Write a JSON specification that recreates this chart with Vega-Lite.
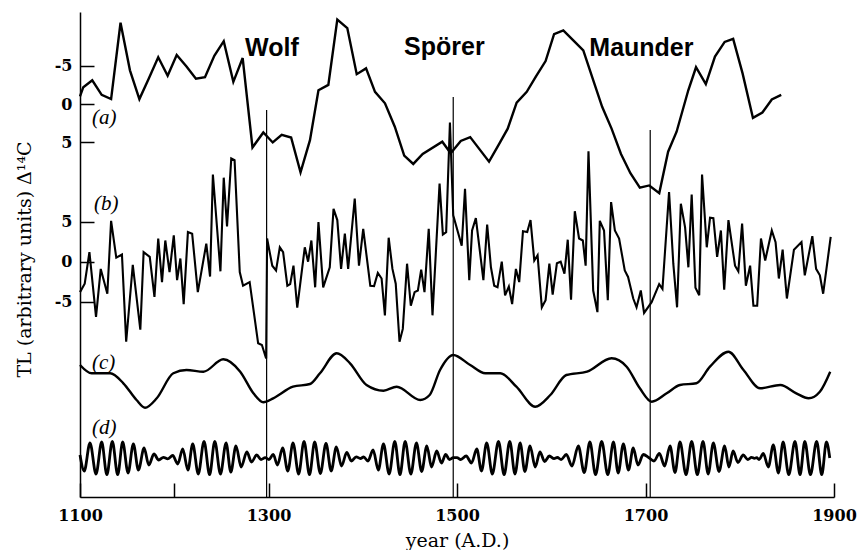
{
  "$schema": "https://vega.github.io/schema/vega-lite/v6.json",
  "width": 754,
  "height": 485,
  "autosize": {"type": "none"},
  "padding": {"left": 80, "top": 12, "right": 27, "bottom": 53},
  "background": "white",
  "config": {
    "view": {"stroke": null},
    "axis": {"grid": false, "domainColor": "black", "tickColor": "black", "labelColor": "black", "titleColor": "black"}
  },
  "datasets": {
    "a": [
      {"t":1100,"v":-1.0},{"t":1103.5,"v":-2.2},{"t":1113,"v":-3.1},{"t":1123,"v":-1.2},{"t":1133,"v":-0.65},{"t":1143,"v":-10.6},{"t":1153,"v":-4.4},{"t":1163,"v":-0.65},{"t":1173,"v":-3.35},{"t":1183,"v":-6.1},{"t":1193,"v":-3.7},{"t":1202.6,"v":-6.4},{"t":1213,"v":-4.9},{"t":1223,"v":-3.3},{"t":1232.6,"v":-3.5},{"t":1242.5,"v":-6.3},{"t":1252.5,"v":-8.2},{"t":1262.7,"v":-2.9},{"t":1272.6,"v":-6.0},{"t":1283,"v":5.65},{"t":1294.5,"v":3.7},{"t":1304.5,"v":5.0},{"t":1314,"v":4.0},{"t":1324,"v":4.35},{"t":1334,"v":8.9},{"t":1344,"v":4.7},{"t":1353,"v":-1.8},{"t":1363.5,"v":-2.5},{"t":1373,"v":-11.0},{"t":1383.6,"v":-9.9},{"t":1393.6,"v":-3.9},{"t":1403.5,"v":-4.65},{"t":1413,"v":-1.6},{"t":1423.6,"v":-0.1},{"t":1434,"v":2.95},{"t":1444,"v":6.7},{"t":1453.6,"v":7.8},{"t":1463.6,"v":6.5},{"t":1484.4,"v":4.9},{"t":1493.3,"v":6.4},{"t":1504,"v":4.8},{"t":1514,"v":4.3},{"t":1534,"v":7.5},{"t":1544,"v":5.35},{"t":1553.8,"v":3.2},{"t":1563.3,"v":-0.2},{"t":1574,"v":-1.6},{"t":1583.8,"v":-3.6},{"t":1594,"v":-5.6},{"t":1603,"v":-9.1},{"t":1612.8,"v":-9.6},{"t":1623.4,"v":-8.3},{"t":1634,"v":-7.0},{"t":1644.6,"v":-3.1},{"t":1654,"v":0.35},{"t":1664,"v":3.2},{"t":1674,"v":6.5},{"t":1684,"v":9.0},{"t":1694,"v":10.9},{"t":1704,"v":10.6},{"t":1714.6,"v":11.6},{"t":1724,"v":6.2},{"t":1733,"v":3.6},{"t":1745.4,"v":-1.8},{"t":1753.6,"v":-4.8},{"t":1764,"v":-2.6},{"t":1773.7,"v":-6.2},{"t":1784,"v":-8.1},{"t":1793,"v":-8.5},{"t":1803,"v":-4.0},{"t":1814,"v":1.8},{"t":1824,"v":1.1},{"t":1834,"v":-0.6},{"t":1844,"v":-1.2}
    ],
    "b": [
      {"t":1100,"v":-3.8},{"t":1105,"v":-2.75},{"t":1110,"v":1.2},{"t":1117,"v":-6.9},{"t":1122,"v":-0.9},{"t":1129,"v":-4.0},{"t":1133,"v":5.1},{"t":1138.5,"v":0.5},{"t":1144.5,"v":0.9},{"t":1149,"v":-10.0},{"t":1156,"v":-0.4},{"t":1164,"v":-8.5},{"t":1167.5,"v":1.2},{"t":1174,"v":0.6},{"t":1179,"v":-4.4},{"t":1183,"v":2.9},{"t":1187,"v":-2.55},{"t":1190.5,"v":2.65},{"t":1195,"v":-1.3},{"t":1199.5,"v":3.3},{"t":1203,"v":-2.3},{"t":1206.5,"v":0.4},{"t":1210,"v":-5.3},{"t":1214.5,"v":3.7},{"t":1219,"v":3.5},{"t":1225,"v":-3.8},{"t":1234,"v":2.25},{"t":1238,"v":-1.85},{"t":1241,"v":10.9},{"t":1249,"v":-1.2},{"t":1252.5,"v":10.5},{"t":1256,"v":4.4},{"t":1260.5,"v":12.9},{"t":1264,"v":12.7},{"t":1269.5,"v":-1.3},{"t":1273,"v":-3.0},{"t":1280,"v":-2.55},{"t":1289,"v":-10.2},{"t":1293,"v":-10.4},{"t":1297.5,"v":-12.1},{"t":1298.5,"v":2.9},{"t":1304,"v":-0.5},{"t":1308,"v":-1.1},{"t":1312,"v":1.8},{"t":1315.5,"v":1.2},{"t":1320,"v":-3.0},{"t":1323,"v":-2.8},{"t":1326.5,"v":-0.5},{"t":1330.5,"v":-5.75},{"t":1338.5,"v":1.8},{"t":1342,"v":0},{"t":1345.5,"v":2.65},{"t":1349.5,"v":-3.2},{"t":1353,"v":4.95},{"t":1358,"v":-3.2},{"t":1365,"v":-0.7},{"t":1369,"v":6.6},{"t":1373,"v":5.2},{"t":1377,"v":-0.9},{"t":1381,"v":3.5},{"t":1384.5,"v":-0.9},{"t":1391.5,"v":7.9},{"t":1396,"v":-0.5},{"t":1400.5,"v":4.1},{"t":1408,"v":-3.0},{"t":1412,"v":-3.05},{"t":1416,"v":-1.4},{"t":1420,"v":-2.1},{"t":1423.5,"v":-6.7},{"t":1427.5,"v":3.0},{"t":1431.5,"v":-0.9},{"t":1435,"v":-2.75},{"t":1439,"v":-10.0},{"t":1442.5,"v":-8.4},{"t":1447,"v":-0.25},{"t":1451,"v":-5.5},{"t":1455,"v":-3.8},{"t":1458.5,"v":-3.6},{"t":1462,"v":-1.0},{"t":1465.5,"v":-3.8},{"t":1470,"v":4.1},{"t":1474,"v":-6.7},{"t":1481.5,"v":9.75},{"t":1485,"v":3.4},{"t":1488.5,"v":3.7},{"t":1492.5,"v":17.4},{"t":1496,"v":5.8},{"t":1505,"v":2.0},{"t":1508.5,"v":9.1},{"t":1513,"v":-2.3},{"t":1516,"v":3.9},{"t":1520,"v":5.45},{"t":1528,"v":-2.3},{"t":1532,"v":4.65},{"t":1536,"v":-0.7},{"t":1539.5,"v":-3.0},{"t":1543,"v":-3.2},{"t":1547.5,"v":0},{"t":1551,"v":-4.2},{"t":1555,"v":-3.1},{"t":1558.5,"v":-5.3},{"t":1562.5,"v":-0.9},{"t":1566,"v":-2.55},{"t":1570,"v":3.8},{"t":1574.5,"v":3.7},{"t":1578,"v":5.2},{"t":1582,"v":0.15},{"t":1585.5,"v":0.8},{"t":1590,"v":-5.7},{"t":1594,"v":-4.8},{"t":1598,"v":-0.25},{"t":1601.5,"v":-4.1},{"t":1606,"v":-0.2},{"t":1610,"v":0},{"t":1614,"v":-1.5},{"t":1617.5,"v":2.75},{"t":1621,"v":-4.75},{"t":1625,"v":6.3},{"t":1629.5,"v":2.9},{"t":1633.5,"v":2.65},{"t":1636.5,"v":-0.5},{"t":1639.5,"v":13.8},{"t":1644.5,"v":-3.6},{"t":1649,"v":-6.3},{"t":1651.5,"v":5.1},{"t":1656,"v":3.9},{"t":1660,"v":-4.8},{"t":1663.5,"v":7.45},{"t":1667.5,"v":3.9},{"t":1672,"v":2.9},{"t":1678,"v":-1.1},{"t":1681.5,"v":-1.9},{"t":1687,"v":-4.6},{"t":1690.5,"v":-5.7},{"t":1695,"v":-3.6},{"t":1698.5,"v":-6.4},{"t":1706.5,"v":-5.05},{"t":1714.5,"v":-2.8},{"t":1718,"v":-3.4},{"t":1725,"v":8.7},{"t":1729.5,"v":-0.25},{"t":1733.5,"v":-5.7},{"t":1737.5,"v":7.25},{"t":1742,"v":4.3},{"t":1745.5,"v":-0.7},{"t":1749,"v":8.4},{"t":1753,"v":-3.25},{"t":1757,"v":-4.2},{"t":1760,"v":10.9},{"t":1765,"v":1.8},{"t":1768.5,"v":5.5},{"t":1772,"v":5.45},{"t":1776,"v":0.6},{"t":1780,"v":3.9},{"t":1783.5,"v":-3.5},{"t":1788,"v":5.2},{"t":1795,"v":-0.5},{"t":1798.5,"v":-1.2},{"t":1802.5,"v":4.75},{"t":1806.5,"v":-3.0},{"t":1811,"v":-0.5},{"t":1814.5,"v":-5.5},{"t":1818.5,"v":-5.5},{"t":1822.5,"v":2.9},{"t":1827,"v":0.15},{"t":1834,"v":3.9},{"t":1838,"v":2.45},{"t":1841.5,"v":-2.1},{"t":1845.5,"v":1.5},{"t":1850,"v":-4.6},{"t":1857.5,"v":1.5},{"t":1865.5,"v":2.45},{"t":1869,"v":-1.7},{"t":1877,"v":3.2},{"t":1881,"v":-0.9},{"t":1885,"v":-1.7},{"t":1888.5,"v":-4.0},{"t":1896.5,"v":3.1}
    ],
    "c": [
      {"t":1100,"v":1.6},{"t":1112.4,"v":0.77},{"t":1132,"v":0.77},{"t":1146,"v":-0.23},{"t":1160,"v":-1.9},{"t":1169,"v":-2.67},{"t":1181.4,"v":-1.73},{"t":1199,"v":0.77},{"t":1213,"v":1.1},{"t":1231,"v":0.93},{"t":1252,"v":2.17},{"t":1270,"v":0.93},{"t":1284,"v":-1.23},{"t":1294.5,"v":-2.13},{"t":1305,"v":-1.73},{"t":1326,"v":-0.57},{"t":1344,"v":-0.3},{"t":1354.6,"v":0.77},{"t":1372.4,"v":2.77},{"t":1386.5,"v":1.77},{"t":1404,"v":-0.4},{"t":1422,"v":-0.97},{"t":1436,"v":-0.57},{"t":1461,"v":-1.9},{"t":1471,"v":-1.4},{"t":1482,"v":1.1},{"t":1496,"v":2.6},{"t":1514,"v":1.6},{"t":1530,"v":0.77},{"t":1546,"v":0.77},{"t":1563,"v":-0.57},{"t":1583,"v":-2.57},{"t":1599,"v":-1.4},{"t":1616,"v":0.6},{"t":1638,"v":0.93},{"t":1664,"v":2.27},{"t":1680,"v":1.43},{"t":1694,"v":-0.73},{"t":1706.6,"v":-2.07},{"t":1722.5,"v":-1.23},{"t":1736.6,"v":-0.4},{"t":1754,"v":-0.23},{"t":1768.4,"v":1.43},{"t":1788,"v":2.93},{"t":1804,"v":1.1},{"t":1821.5,"v":-0.73},{"t":1843,"v":-0.4},{"t":1860,"v":-1.23},{"t":1873,"v":-1.73},{"t":1885,"v":-1.07},{"t":1896,"v":0.93}
    ],
    "d": [
      {"t":1100,"v":0.3},{"t":1104.5,"v":-1.3},{"t":1110.6,"v":1.5},{"t":1117,"v":-1.6},{"t":1123,"v":1.6},{"t":1128.5,"v":-1.67},{"t":1134.3,"v":1.67},{"t":1140,"v":-1.67},{"t":1145.3,"v":1.6},{"t":1151,"v":-1.5},{"t":1156.6,"v":1.4},{"t":1162,"v":-1.2},{"t":1168,"v":1.0},{"t":1173,"v":-0.7},{"t":1178.5,"v":0.4},{"t":1183.5,"v":-0.2},{"t":1188.5,"v":0.06},{"t":1193,"v":-0.08},{"t":1198.4,"v":0.25},{"t":1203.7,"v":-0.6},{"t":1209,"v":0.9},{"t":1214.5,"v":-1.2},{"t":1219.6,"v":1.4},{"t":1225.5,"v":-1.6},{"t":1231.6,"v":1.67},{"t":1237.5,"v":-1.67},{"t":1243,"v":1.67},{"t":1249,"v":-1.6},{"t":1255,"v":1.5},{"t":1260,"v":-1.4},{"t":1265.5,"v":1.2},{"t":1271,"v":-0.9},{"t":1277,"v":0.6},{"t":1282,"v":-0.4},{"t":1287.5,"v":0.3},{"t":1292,"v":-0.15},{"t":1296.5,"v":0.03},{"t":1300.5,"v":-0.15},{"t":1305,"v":0.35},{"t":1309.5,"v":-0.7},{"t":1315,"v":1.0},{"t":1320.5,"v":-1.3},{"t":1326,"v":1.5},{"t":1332,"v":-1.6},{"t":1337.7,"v":1.67},{"t":1343.5,"v":-1.67},{"t":1349,"v":1.6},{"t":1355,"v":-1.55},{"t":1361,"v":1.45},{"t":1366.5,"v":-1.3},{"t":1372,"v":1.1},{"t":1377.5,"v":-0.8},{"t":1383,"v":0.55},{"t":1388,"v":-0.3},{"t":1393,"v":0.12},{"t":1397.5,"v":-0.05},{"t":1401,"v":0.1},{"t":1405.5,"v":-0.3},{"t":1411,"v":0.8},{"t":1416.5,"v":-1.2},{"t":1422,"v":1.4},{"t":1428,"v":-1.6},{"t":1434,"v":1.67},{"t":1439.5,"v":-1.67},{"t":1445,"v":1.67},{"t":1451,"v":-1.6},{"t":1457,"v":1.5},{"t":1462.5,"v":-1.35},{"t":1468,"v":1.2},{"t":1473,"v":-0.9},{"t":1478.5,"v":0.7},{"t":1483.5,"v":-0.5},{"t":1488,"v":0.35},{"t":1492,"v":-0.15},{"t":1496,"v":0.03},{"t":1500,"v":0.04},{"t":1504,"v":-0.15},{"t":1509.7,"v":0.2},{"t":1515.4,"v":-0.5},{"t":1521,"v":0.9},{"t":1526,"v":-1.3},{"t":1531.5,"v":1.5},{"t":1537.5,"v":-1.6},{"t":1544,"v":1.67},{"t":1550,"v":-1.67},{"t":1556,"v":1.67},{"t":1561.5,"v":-1.6},{"t":1567,"v":1.5},{"t":1572,"v":-1.35},{"t":1577.5,"v":1.2},{"t":1583,"v":-0.9},{"t":1588,"v":0.6},{"t":1593,"v":-0.35},{"t":1598,"v":0.2},{"t":1603,"v":-0.06},{"t":1606.5,"v":0.05},{"t":1610.5,"v":-0.15},{"t":1616,"v":0.35},{"t":1622,"v":-0.8},{"t":1628.7,"v":1.2},{"t":1635,"v":-1.45},{"t":1641,"v":1.6},{"t":1647,"v":-1.67},{"t":1653.5,"v":1.67},{"t":1660,"v":-1.67},{"t":1666,"v":1.6},{"t":1671,"v":-1.5},{"t":1676.5,"v":1.4},{"t":1682,"v":-1.2},{"t":1687,"v":1.0},{"t":1692,"v":-0.7},{"t":1697.7,"v":0.35},{"t":1703.4,"v":0.05},{"t":1709,"v":-0.3},{"t":1714.7,"v":0.45},{"t":1720.3,"v":-0.8},{"t":1726,"v":1.2},{"t":1731.3,"v":-1.45},{"t":1736.6,"v":1.6},{"t":1743,"v":-1.67},{"t":1749,"v":1.67},{"t":1755,"v":-1.67},{"t":1761,"v":1.67},{"t":1766.5,"v":-1.6},{"t":1772,"v":1.5},{"t":1778,"v":-1.35},{"t":1784,"v":1.2},{"t":1788.5,"v":-0.9},{"t":1793,"v":0.7},{"t":1798,"v":-0.45},{"t":1803.7,"v":0.3},{"t":1808.5,"v":-0.15},{"t":1812.5,"v":0.06},{"t":1815.5,"v":-0.03},{"t":1818,"v":0.03},{"t":1820.5,"v":-0.15},{"t":1825,"v":0.45},{"t":1830.3,"v":-0.9},{"t":1835.6,"v":1.3},{"t":1841,"v":-1.5},{"t":1846,"v":1.6},{"t":1852,"v":-1.67},{"t":1858.6,"v":1.67},{"t":1864,"v":-1.67},{"t":1869,"v":1.67},{"t":1875,"v":-1.67},{"t":1881.6,"v":1.67},{"t":1887,"v":-1.67},{"t":1892,"v":1.6},{"t":1895.5,"v":0}
    ],
    "events": [
      {"t":1298,"top":0.78},{"t":1496,"top":-0.91},{"t":1705,"top":3.39}
    ],
    "names": [
      {"t":1275.1,"y":-6.26,"label":"Wolf"},{"t":1443.8,"y":-6.39,"label":"Spörer"},{"t":1640.4,"y":-6.26,"label":"Maunder"}
    ],
    "panels": [
      {"t":1112.7,"y":1.76,"label":"(a)"},{"t":1114.9,"y":13.04,"label":"(b)"},{"t":1112.7,"y":33.7,"label":"(c)"},{"t":1112.7,"y":42.18,"label":"(d)"}
    ]
  },
  "encoding": {
    "x": {
      "field": "t", "type": "quantitative",
      "scale": {"domain": [1100, 1900], "nice": false, "zero": false},
      "axis": {
        "values": [1100, 1200, 1300, 1500, 1700, 1900],
        "tickSize": -14, "tickWidth": 1.5, "domainWidth": 1.5,
        "labelPadding": 24, "labelOverlap": false, "labelFlush": false,
        "labelFont": "DejaVu Serif", "labelFontWeight": "bold", "labelFontSize": 16,
        "labelExpr": "datum.value == 1200 ? '' : format(datum.value, 'd')",
        "title": "year (A.D.)", "titleFont": "DejaVu Serif", "titleFontSize": 19, "titleFontWeight": "normal",
        "titleY": 49, "titleBaseline": "alphabetic"
      }
    }
  },
  "layer": [
    {
      "data": {"name": "events"},
      "mark": {"type": "rule", "color": "black", "strokeWidth": 1.2},
      "encoding": {
        "y": {"field": "top", "type": "quantitative", "scale": {"domain": [-12, 51.2], "reverse": true, "nice": false, "zero": false}, "axis": null},
        "y2": {"datum": 51.2}
      }
    },
    {
      "data": {"name": "a"},
      "mark": {"type": "line", "color": "black", "strokeWidth": 2.4},
      "encoding": {
        "y": {
          "field": "v", "type": "quantitative",
          "scale": {"domain": [-12, 51.2], "reverse": true, "nice": false, "zero": false},
          "axis": {
            "orient": "left", "values": [-5, 0, 5],
            "tickSize": -14, "tickWidth": 1.5, "domainWidth": 1.5,
            "labelPadding": 22, "labelFont": "DejaVu Serif", "labelFontWeight": "bold", "labelFontSize": 16,
            "labelExpr": "replace(datum.label, '\u2212', '-')",
            "title": "TL (arbitrary units)  Δ¹⁴C", "titleFont": "DejaVu Serif", "titleFontSize": 19, "titleFontWeight": "normal",
            "titleAngle": 270, "titleX": -50, "titleY": 247, "titleAlign": "center", "titleBaseline": "alphabetic"
          }
        }
      }
    },
    {
      "data": {"name": "b"},
      "mark": {"type": "line", "color": "black", "strokeWidth": 2.1},
      "encoding": {
        "y": {
          "field": "v", "type": "quantitative",
          "scale": {"domain": [-29.4, 31.2], "nice": false, "zero": false},
          "axis": {
            "orient": "left", "values": [-5, 0, 5], "domain": false,
            "tickSize": -14, "tickWidth": 1.5,
            "labelPadding": 22, "labelFont": "DejaVu Serif", "labelFontWeight": "bold", "labelFontSize": 16,
            "labelExpr": "replace(datum.label, '\u2212', '-')",
            "title": null
          }
        }
      }
    },
    {
      "data": {"name": "c"},
      "mark": {"type": "line", "color": "black", "strokeWidth": 2.4, "interpolate": "monotone"},
      "encoding": {
        "y": {"field": "v", "type": "quantitative", "scale": {"domain": [-11.6, 36.9], "nice": false, "zero": false}, "axis": null}
      }
    },
    {
      "data": {"name": "d"},
      "mark": {"type": "line", "color": "black", "strokeWidth": 2.8, "interpolate": "monotone"},
      "encoding": {
        "y": {"field": "v", "type": "quantitative", "scale": {"domain": [-3.9, 44.6], "nice": false, "zero": false}, "axis": null}
      }
    },
    {
      "data": {"name": "names"},
      "mark": {"type": "text", "align": "left", "baseline": "alphabetic", "font": "Liberation Sans", "fontWeight": "bold", "fontSize": 25, "color": "black"},
      "encoding": {
        "y": {"field": "y", "type": "quantitative", "scale": {"domain": [-12, 51.2], "reverse": true, "nice": false, "zero": false}, "axis": null},
        "text": {"field": "label"}
      }
    },
    {
      "data": {"name": "panels"},
      "mark": {"type": "text", "align": "left", "baseline": "middle", "font": "Liberation Serif", "fontStyle": "italic", "fontSize": 21, "color": "black"},
      "encoding": {
        "y": {"field": "y", "type": "quantitative", "scale": {"domain": [-12, 51.2], "reverse": true, "nice": false, "zero": false}, "axis": null},
        "text": {"field": "label"}
      }
    }
  ],
  "resolve": {"scale": {"y": "independent"}, "axis": {"y": "independent"}}
}
